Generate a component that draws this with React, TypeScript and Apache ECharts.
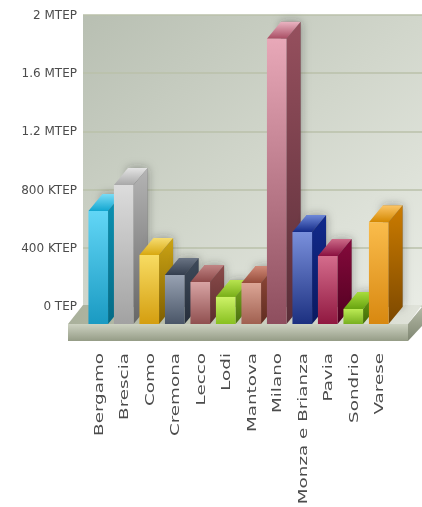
import React, { useEffect, useRef } from "react";
import * as echarts from "echarts";

const categories = ["Bergamo", "Brescia", "Como", "Cremona", "Lecco", "Lodi", "Mantova", "Milano", "Monza e Brianza", "Pavia", "Sondrio", "Varese"];
const valuesMtep = [0.777, 0.955, 0.474, 0.337, 0.289, 0.186, 0.282, 1.96, 0.632, 0.467, 0.103, 0.70];
const yTickLabels = ["0 TEP", "400 KTEP", "800 KTEP", "1.2 MTEP", "1.6 MTEP", "2 MTEP"];

// [front top, front bottom, side top, side bottom, cap back, cap front]
const barColors = [
  ["#62d6f6", "#1a9ac2", "#0c93b4", "#056a85", "#7adcf6", "#12a6d0"],
  ["#dcdcdc", "#a2a2a2", "#b4b4b4", "#666666", "#e4e4e4", "#a8a8a8"],
  ["#f8dc62", "#d49e10", "#ccA414", "#7e5e00", "#f6dc70", "#d8a810"],
  ["#98a2b2", "#4a5668", "#3e4a5a", "#262e3a", "#6a7484", "#343e4e"],
  ["#d8a4a4", "#905050", "#8c4c4c", "#5a2c2c", "#c08484", "#8e4a4a"],
  ["#cdf268", "#88c020", "#7cac20", "#4a7010", "#b8e450", "#78ae18"],
  ["#dca696", "#a06050", "#924a3a", "#602c20", "#d08a78", "#964c3a"],
  ["#e8a8b8", "#8e4e5e", "#96505e", "#5a2e38", "#eab4c2", "#a84c62"],
  ["#7a90dc", "#1c3080", "#122a8c", "#0a1a60", "#6e88d8", "#142a88"],
  ["#d46c8c", "#901840", "#860a3c", "#500020", "#cc6a88", "#8a1040"],
  ["#bcea54", "#78b020", "#6ca412", "#406808", "#a8dc3c", "#68a410"],
  ["#fabc4c", "#d88810", "#cc7c00", "#7c4800", "#fcc668", "#d48800"],
];

const DEPTH_X = 14;
const DEPTH_Y = 17;

const v = (top: string, bottom: string) => ({
  type: "linear", x: 0, y: 0, x2: 0, y2: 1,
  colorStops: [{ offset: 0, color: top }, { offset: 1, color: bottom }],
});

function renderBar(params: any, api: any) {
  const i = api.value(0);
  const [cx, top] = api.coord([i, api.value(1)]);
  const [, base] = api.coord([i, 0]);
  const w = api.size([1, 0])[0] * 0.77;
  const l = cx - w / 2;
  const r = cx + w / 2;
  const c = barColors[i];
  const sidePts = [[r, top], [r + DEPTH_X, top - DEPTH_Y], [r + DEPTH_X, base - DEPTH_Y], [r, base]];
  const capPts = [[l, top], [l + DEPTH_X, top - DEPTH_Y], [r + DEPTH_X, top - DEPTH_Y], [r, top]];
  return {
    type: "group",
    children: [
      {
        type: "polygon",
        shape: { points: [[l + DEPTH_X, top - DEPTH_Y], [r + DEPTH_X, top - DEPTH_Y], [r + DEPTH_X, base - DEPTH_Y], [l + DEPTH_X, base - DEPTH_Y]] },
        style: { fill: "rgba(70,70,70,0.6)", shadowBlur: 10, shadowColor: "rgba(40,40,40,0.7)", shadowOffsetX: 0, shadowOffsetY: 0 },
      },
      { type: "polygon", shape: { points: sidePts }, style: { fill: v(c[2], c[3]) } },
      { type: "polygon", shape: { points: capPts }, style: { fill: v(c[4], c[5]) } },
      { type: "rect", shape: { x: l, y: top, width: w, height: base - top }, style: { fill: v(c[0], c[1]) } },
    ],
  };
}

function renderCategoryLabel(params: any, api: any) {
  const i = api.value(0);
  const [cx] = api.coord([i, 0]);
  return {
    type: "text",
    x: cx,
    y: 353,
    rotation: Math.PI / 2,
    scaleX: 1.41,
    style: {
      text: categories[i],
      align: "right",
      verticalAlign: "middle",
      fontFamily: "DejaVu Sans",
      fontSize: 13,
      fill: "#4c4c4c",
    },
  };
}

export default function App() {
  const ref = useRef<HTMLDivElement>(null);
  useEffect(() => {
    const chart = echarts.init(ref.current!, null, { renderer: "svg" });
    chart.setOption({
      animation: false,
      backgroundColor: "#ffffff",
      grid: [
        {
          left: 83, top: 15, width: 339, height: 291, show: true, borderWidth: 0,
          backgroundColor: {
            type: "linear", x: 0, y: 0, x2: 1, y2: 1,
            colorStops: [{ offset: 0, color: "#b8bfb2" }, { offset: 0.5, color: "#d1d6cb" }, { offset: 1, color: "#e9ece5" }],
          },
        },
        { left: 85.5, top: 33, width: 306, height: 291 },
      ],
      xAxis: [
        { gridIndex: 0, type: "category", data: categories, show: false },
        {
          gridIndex: 1, type: "category", data: categories,
          axisLine: { show: false }, axisTick: { show: false }, splitLine: { show: false },
          axisLabel: { show: false },
        },
      ],
      yAxis: [
        {
          gridIndex: 0, type: "value", min: 0, max: 2, interval: 0.4,
          axisLine: { show: false }, axisTick: { show: false },
          splitLine: { show: true, lineStyle: { color: "#bac1aa", width: 1.5 } },
          axisLabel: {
            fontFamily: "DejaVu Sans", fontSize: 12, color: "#4c4c4c", margin: 6,
            formatter: (val: number) => yTickLabels[Math.round(val / 0.4)],
          },
        },
        { gridIndex: 1, type: "value", min: 0, max: 2, interval: 0.4, show: false, splitLine: { show: false } },
      ],
      graphic: [
        {
          type: "polygon", z: 1, shape: { points: [[68, 324], [83, 305], [422, 305], [408, 324]] },
          style: { fill: { type: "linear", x: 0, y: 0, x2: 1, y2: 0, colorStops: [{ offset: 0, color: "#a9b09b" }, { offset: 0.5, color: "#c8ccbc" }, { offset: 1, color: "#e0e3da" }] } },
        },
        {
          type: "rect", z: 1, shape: { x: 68, y: 324, width: 340, height: 17 },
          style: { fill: v("#cdd2c2", "#959c86") },
        },
        {
          type: "polygon", z: 1, shape: { points: [[408, 324], [422, 307], [422, 326], [408, 341]] },
          style: { fill: v("#b4b9a6", "#7f8672") },
        },
      ],
      series: [
        {
          type: "custom", xAxisIndex: 1, yAxisIndex: 1, z: 5, clip: false,
          data: valuesMtep.map((val, i) => [i, val]),
          encode: { x: 0, y: 1 },
          renderItem: renderBar,
        },
        {
          type: "custom", xAxisIndex: 1, yAxisIndex: 1, z: 6, clip: false, silent: true,
          data: categories.map((_, i) => [i, 0]),
          encode: { x: 0, y: 1 },
          renderItem: renderCategoryLabel,
        },
      ],
    });
    return () => chart.dispose();
  }, []);
  return (
    <div
      ref={ref}
      style={{ position: "absolute", left: 0, top: 0, width: 422, height: 507, filter: "blur(0.5px)" }}
    />
  );
}
